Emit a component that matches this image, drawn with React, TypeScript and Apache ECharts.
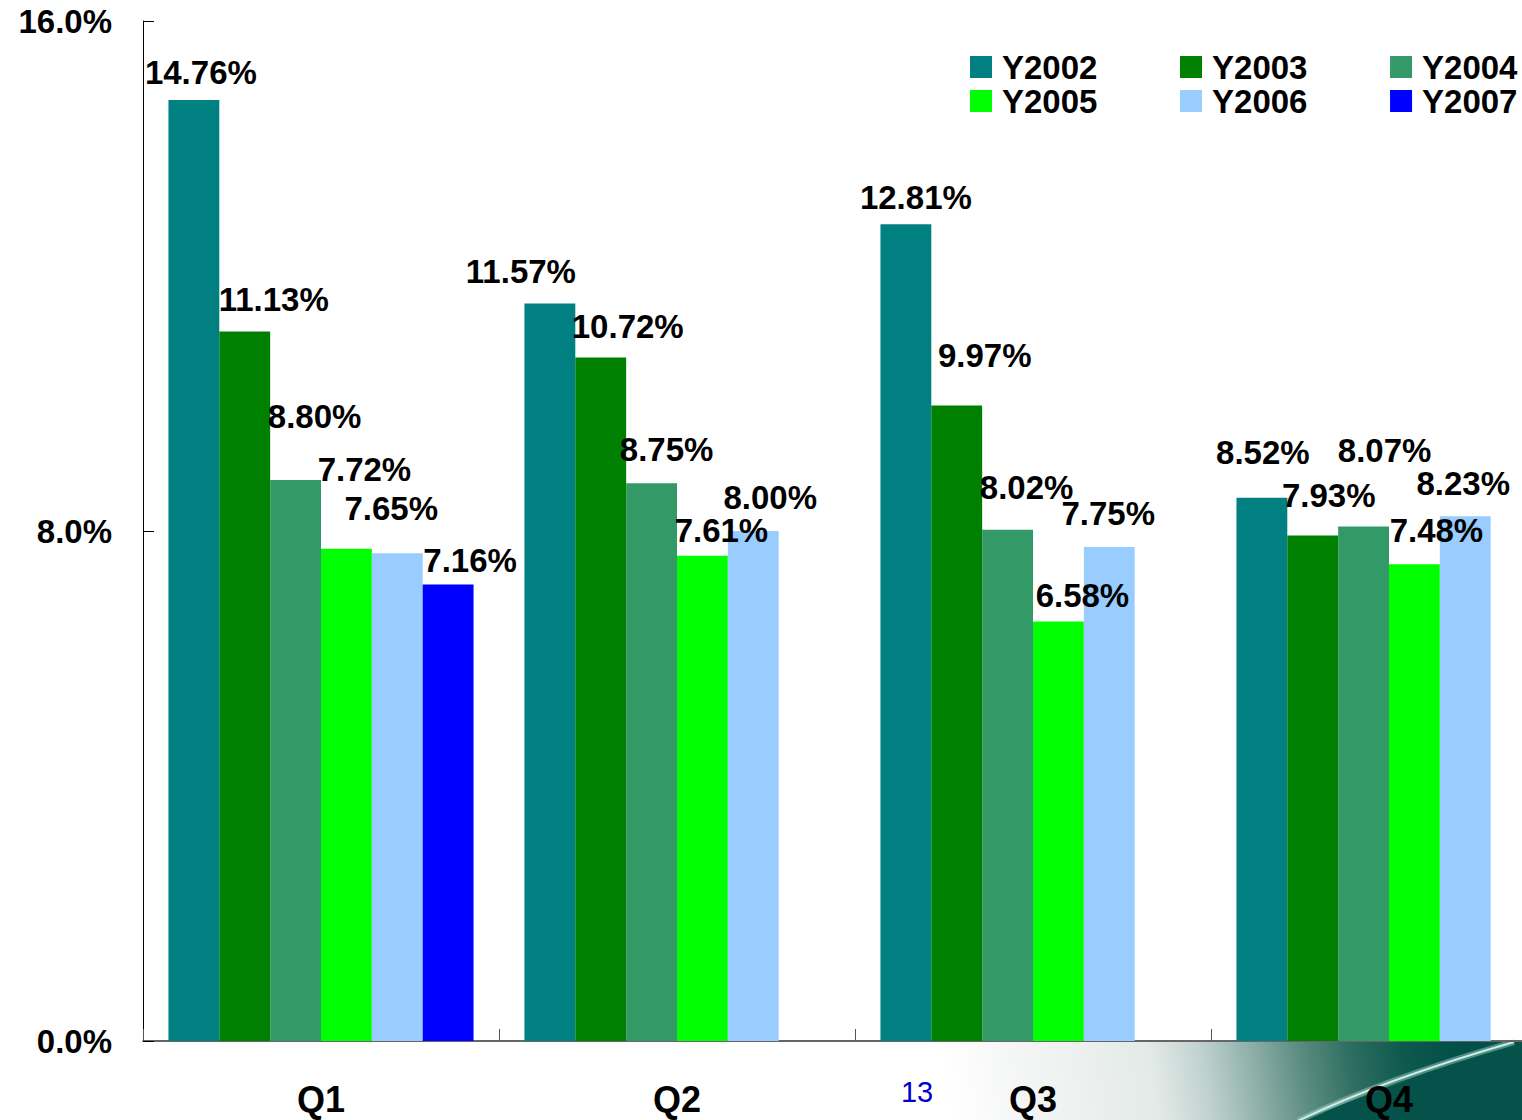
import React, { useEffect, useRef } from 'react';
import * as echarts from 'echarts';

const categories = ['Q1', 'Q2', 'Q3', 'Q4'];
const seriesNames = ['Y2002', 'Y2003', 'Y2004', 'Y2005', 'Y2006', 'Y2007'];
const y2002 = [14.76, 11.57, 12.81, 8.52];
const y2003 = [11.13, 10.72, 9.97, 7.93];
const y2004 = [8.8, 8.75, 8.02, 8.07];
const y2005 = [7.72, 7.61, 6.58, 7.48];
const y2006 = [7.65, 8.0, 7.75, 8.23];
const y2007 = [7.16, null, null, null];
const seriesValues = [y2002, y2003, y2004, y2005, y2006, y2007];
const yMin = 0;
const yMax = 16;
const yInterval = 8;
const pageNumber = '13';

const colors = ['#008080', '#008000', '#339966', '#00FF00', '#99CCFF', '#0000FF'];

// label offsets [dx, dy] from each bar's top-centre (the labels were hand-placed in the original)
const labelOffsets = [
  [[7, -28], [-29, -32], [10, -27], [1, -45]],
  [[29, -32], [27, -31], [28, -50], [16, -40]],
  [[19, -64], [15, -34], [19, -42], [21, -76]],
  [[18, -79], [19, -25], [24, -26], [22, -34]],
  [[-6, -45], [17, -34], [-1, -33], [-2, -33]],
  [[22, -24], [0, 0], [0, 0], [0, 0]],
];

const FONT = '"Liberation Sans", Arial, Helvetica, sans-serif';
const CHART_W = 1570;
const CHART_H = 1120;

export default function App() {
  const ref = useRef<HTMLDivElement>(null);

  useEffect(() => {
    if (!ref.current) return;
    const chart = echarts.init(ref.current, null, { renderer: 'svg', width: CHART_W, height: CHART_H });

    const series = seriesNames.map((name, si) => ({
      name,
      type: 'bar',
      barGap: '0%',
      barCategoryGap: '14.3%',
      itemStyle: { color: colors[si] },
      label: {
        show: true,
        position: 'top',
        distance: 0,
        align: 'center',
        verticalAlign: 'middle',
        fontSize: 33,
        fontWeight: 'bold',
        color: '#000',
        fontFamily: FONT,
        formatter: (p: any) => Number(p.value).toFixed(2) + '%',
      },
      data: seriesValues[si].map((v, ci) =>
        v == null ? '-' : { value: v, label: { offset: labelOffsets[si][ci] } }
      ),
    }));

    const legendCommon = {
      left: 970,
      padding: 0,
      itemWidth: 22,
      itemHeight: 22,
      itemGap: 82.6,
      icon: 'rect',
      selectedMode: false,
      textStyle: {
        fontSize: 33,
        fontWeight: 'bold',
        color: '#000',
        fontFamily: FONT,
        lineHeight: 34,
        padding: [0, 0, 0, 5],
      },
    };

    const swooshStops = [
      { offset: 0, color: '#ffffff' },
      { offset: 0.15, color: '#f4f6f5' },
      { offset: 0.41, color: '#e3eae8' },
      { offset: 0.51, color: '#c0d2ce' },
      { offset: 0.607, color: '#8fb0a9' },
      { offset: 0.704, color: '#5b8c82' },
      { offset: 0.8, color: '#2f6e62' },
      { offset: 0.9, color: '#0f5a4e' },
      { offset: 1, color: '#03504a' },
    ];

    chart.setOption({
      animation: false,
      textStyle: { fontFamily: FONT },
      grid: { left: 143, top: 21, width: 1424, height: 1020, containLabel: false },
      legend: [
        { ...legendCommon, top: 50, data: seriesNames.slice(0, 3) },
        { ...legendCommon, top: 84, data: seriesNames.slice(3, 6) },
      ],
      xAxis: {
        type: 'category',
        data: categories,
        axisLine: { show: true, lineStyle: { color: '#333', width: 1.5 } },
        axisTick: { show: true, inside: true, length: 12, lineStyle: { color: '#555' } },
        axisLabel: { fontSize: 36, fontWeight: 'bold', color: '#000', margin: 40, fontFamily: FONT },
        splitLine: { show: false },
      },
      yAxis: {
        type: 'value',
        min: yMin,
        max: yMax,
        interval: yInterval,
        axisLine: { show: true, lineStyle: { color: '#000', width: 1 } },
        axisTick: { show: true, inside: true, length: 11, lineStyle: { color: '#000' } },
        axisLabel: {
          fontSize: 33,
          fontWeight: 'bold',
          color: '#000',
          margin: 31,
          fontFamily: FONT,
          formatter: (v: number) => v.toFixed(1) + '%',
        },
        splitLine: { show: false },
      },
      graphic: [
        {
          type: 'rect',
          z: -10,
          silent: true,
          shape: { x: 780, y: 1042, width: 790, height: 78 },
          style: {
            fill: new echarts.graphic.LinearGradient(950, 1120, 1450, 1040, swooshStops, true),
          },
        },
        {
          type: 'polygon',
          z: -9,
          silent: true,
          shape: { points: [[1300, 1120], [1570, 1120], [1570, 1042], [1512, 1042]] },
          style: { fill: '#04524a' },
        },
        {
          type: 'bezierCurve',
          z: -8,
          silent: true,
          shape: { x1: 1298, y1: 1121, cpx1: 1382, cpy1: 1080, x2: 1514, y2: 1042 },
          style: { stroke: 'rgba(170,215,205,0.45)', lineWidth: 6, fill: 'none' },
        },
        {
          type: 'bezierCurve',
          z: -7,
          silent: true,
          shape: { x1: 1298, y1: 1121, cpx1: 1382, cpy1: 1080, x2: 1514, y2: 1042 },
          style: { stroke: '#cdebe5', lineWidth: 2, fill: 'none' },
        },
        {
          type: 'text',
          z: 5,
          silent: true,
          x: 917,
          y: 1092,
          style: {
            text: pageNumber,
            fill: '#0000CC',
            fontSize: 29,
            fontFamily: FONT,
            align: 'center',
            verticalAlign: 'middle',
          },
        },
      ],
      series,
    });

    return () => chart.dispose();
  }, []);

  return (
    <div
      style={{
        position: 'absolute',
        left: 0,
        top: 0,
        width: 1522,
        height: CHART_H,
        overflow: 'hidden',
        background: '#fff',
      }}
    >
      <div ref={ref} style={{ width: CHART_W, height: CHART_H }} />
    </div>
  );
}
